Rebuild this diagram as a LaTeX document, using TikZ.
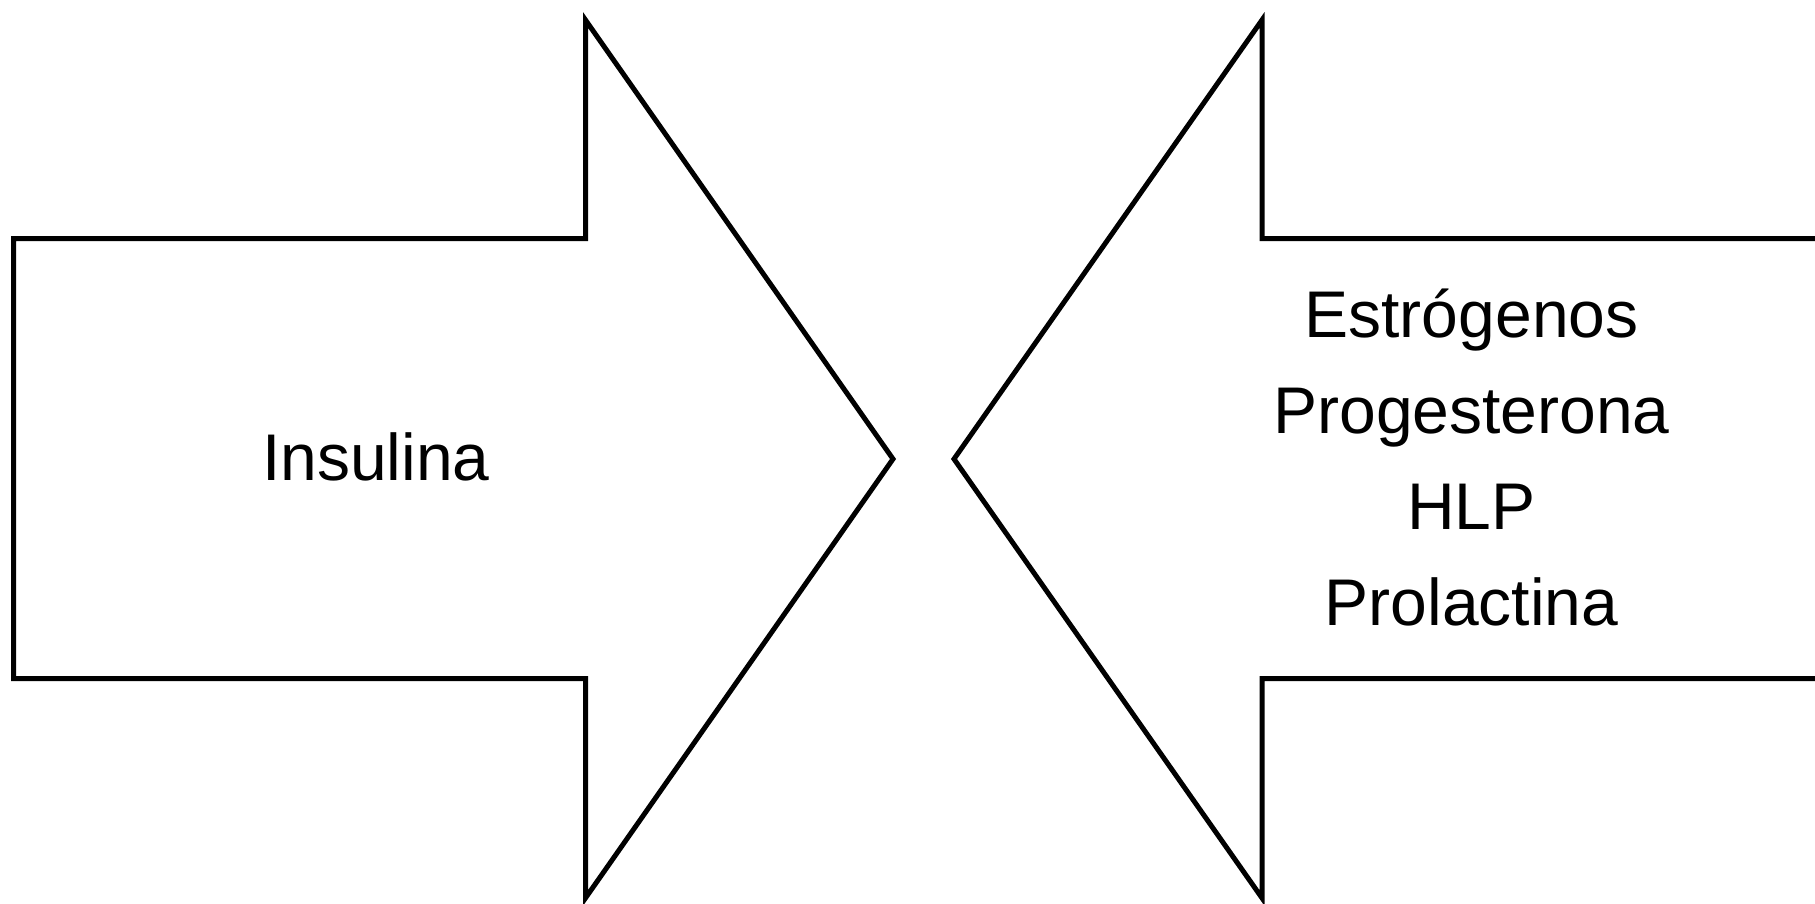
\documentclass[tikz,border=0pt]{standalone}
\usepackage{fontspec}
\setmainfont{Liberation Sans}
\begin{document}
\begin{tikzpicture}[x=1pt,y=-1pt,
  arrowshape/.style={draw=black,line width=5pt,fill=white,line join=miter},
  lbl/.style={font=\fontsize{66}{96}\selectfont,align=center,inner sep=0pt,anchor=base}]
\useasboundingbox (0,0) rectangle (1815,903);
\fill[white] (0,0) rectangle (1815,903);
\draw[arrowshape] (13.5,238.5) -- (585.5,238.5) -- (585.5,20) -- (893,459) -- (585.5,898) -- (585.5,678.5) -- (13.5,678.5) -- cycle;
\draw[arrowshape] (1840,238.5) -- (1262,238.5) -- (1262,20) -- (954,459) -- (1262,898) -- (1262,678.5) -- (1840,678.5) -- cycle;
\node[lbl] (ins) at (376,480) {Insulina};
\node[lbl] (hor) at (1471.5,625) {Estrógenos\\Progesterona\\HLP\\Prolactina};
\end{tikzpicture}
\end{document}
